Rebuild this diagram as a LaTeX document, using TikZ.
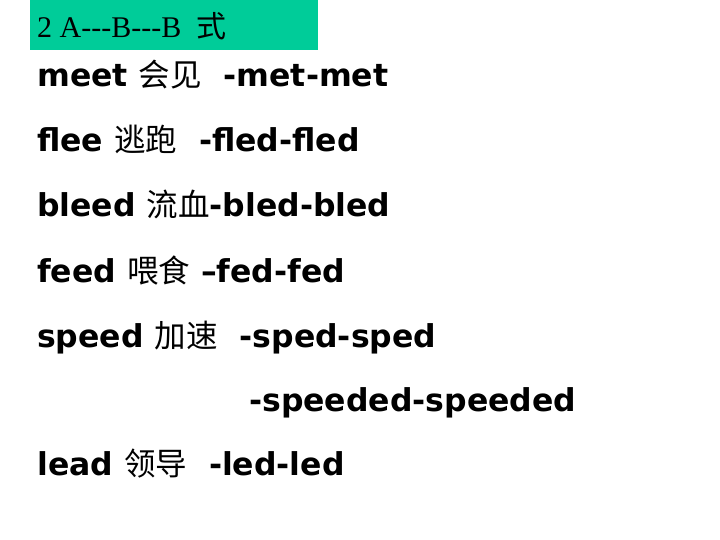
\documentclass[tikz,border=0pt]{standalone}
\usepackage{fontspec}
\setmainfont{Liberation Serif}
\newfontfamily\vb{DejaVu Sans}
\newfontfamily\cjk{Noto Sans CJK SC}
\begin{document}
\begin{tikzpicture}[x=1pt,y=-1pt,
  ln/.style={anchor=base west,inner sep=0pt,font=\vb\bfseries\fontsize{31.5}{33}\selectfont}]
\useasboundingbox (0,0) rectangle (720,540);
\fill[fill={rgb,255:red,0;green,204;blue,153}] (30,0) rectangle (318,50);
\node[anchor=base west,inner sep=0pt,font=\fontsize{30}{32}\selectfont] (h) at (37,38) {2 A-{}-{}-B-{}-{}-B\ \ {\cjk 式}};
\node[ln] (l1) at (37,87) {meet {\cjk\mdseries 会见}\ \ -met-met};
\node[ln] (l2) at (37,152) {flee {\cjk\mdseries 逃跑}\ \ -fled-fled};
\node[ln] (l3) at (37,217) {bleed {\cjk\mdseries 流血}-bled-bled};
\node[ln] (l4) at (37,282) {feed {\cjk\mdseries 喂食} –fed-fed};
\node[ln] (l5) at (37,347) {speed {\cjk\mdseries 加速}\ \ -sped-sped};
\node[ln] (l6) at (249,411) {-speeded-speeded};
\node[ln] (l7) at (37,475) {lead {\cjk\mdseries 领导}\ \ -led-led};
\end{tikzpicture}
\end{document}
